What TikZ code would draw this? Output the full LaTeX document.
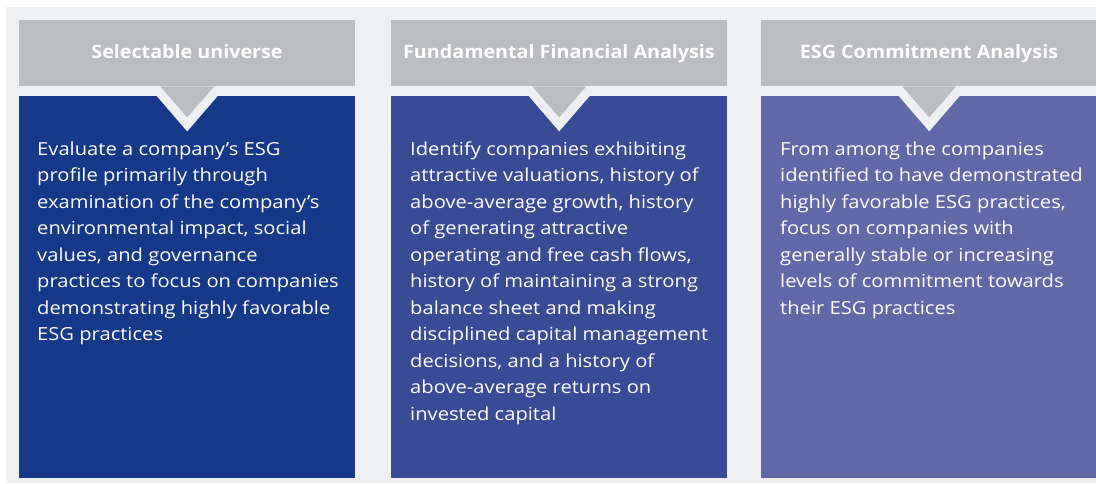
\documentclass[tikz,border=0pt]{standalone}
\usepackage{fontspec}
\setmainfont{Open Sans}
\newfontfamily\bodyfont{Open Sans}[FakeStretch=1.12]
\newfontfamily\titlefont{Open Sans}[FakeStretch=1.065]
\usetikzlibrary{positioning}
\definecolor{pagegrey}{RGB}{239,240,242}
\definecolor{headgrey}{RGB}{188,189,192}
\definecolor{esgblue}{RGB}{22,56,137}
\definecolor{finblue}{RGB}{58,75,150}
\definecolor{comblue}{RGB}{97,104,168}
\tikzset{
  header/.style={
    fill           = headgrey,
    minimum width  = 336pt,
    minimum height = 66pt,
    inner sep      = 0pt,
    anchor         = north west},
  panel/.style={
    minimum width  = 336pt,
    minimum height = 382pt,
    inner sep      = 0pt,
    anchor         = north west},
  title/.style={
    text   = white,
    font   = \titlefont\fontsize{18.5}{20}\selectfont\bfseries,
    anchor = base},
  body/.style={
    text      = white,
    font      = \bodyfont\fontsize{18}{26.5}\selectfont,
    inner sep = 0pt,
    align     = left,
    anchor    = north west}
}
\newcommand\notch[1]{%
  \fill[pagegrey] (#1.south) ++(-31,9) -- ++(62,0) -- ++(-31,36) -- cycle;
  \fill[headgrey] (#1.south) ++(-27,0) -- ++(54,0) -- ++(-27,31) -- cycle;}
\newcommand\firstline{\rule{0pt}{14pt}}

\begin{document}
\begin{tikzpicture}[x=1pt,y=-1pt]

\useasboundingbox (0,0) rectangle (1096,483);
\fill[pagegrey] (6,7) rectangle (1096,483);

\node[header] (hdA) at (19,20)  {};
\node[header] (hdB) at (391,20) {};
\node[header] (hdC) at (761,20) {};

\node[panel, fill=esgblue] (pnA) at (19,96)  {};
\node[panel, fill=finblue] (pnB) at (391,96) {};
\node[panel, fill=comblue] (pnC) at (761,96) {};

\notch{hdA}
\notch{hdB}
\notch{hdC}

\node[title] (tA) at (187,58) {Selectable universe};
\node[title] (tB) at (559,58) {Fundamental Financial Analysis};
\node[title] (tC) at (929,58) {ESG Commitment Analysis};

\node[body] (txA) at (37,141)
{
  \firstline Evaluate a company’s ESG\\
  profile primarily through\\
  examination of the company’s\\
  environmental impact, social\\
  values, and governance\\
  practices to focus on companies\\
  demonstrating highly favorable\\
  ESG practices
};

\node[body] (txB) at (410,141)
{
  \firstline Identify companies exhibiting\\
  attractive valuations, history of\\
  above-average growth, history\\
  of generating attractive\\
  operating and free cash flows,\\
  history of maintaining a strong\\
  balance sheet and making\\
  disciplined capital management\\
  decisions, and a history of\\
  above-average returns on\\
  invested capital
};

\node[body] (txC) at (780,141)
{
  \firstline From among the companies\\
  identified to have demonstrated\\
  highly favorable ESG practices,\\
  focus on companies with\\
  generally stable or increasing\\
  levels of commitment towards\\
  their ESG practices
};

\end{tikzpicture}
\end{document}
